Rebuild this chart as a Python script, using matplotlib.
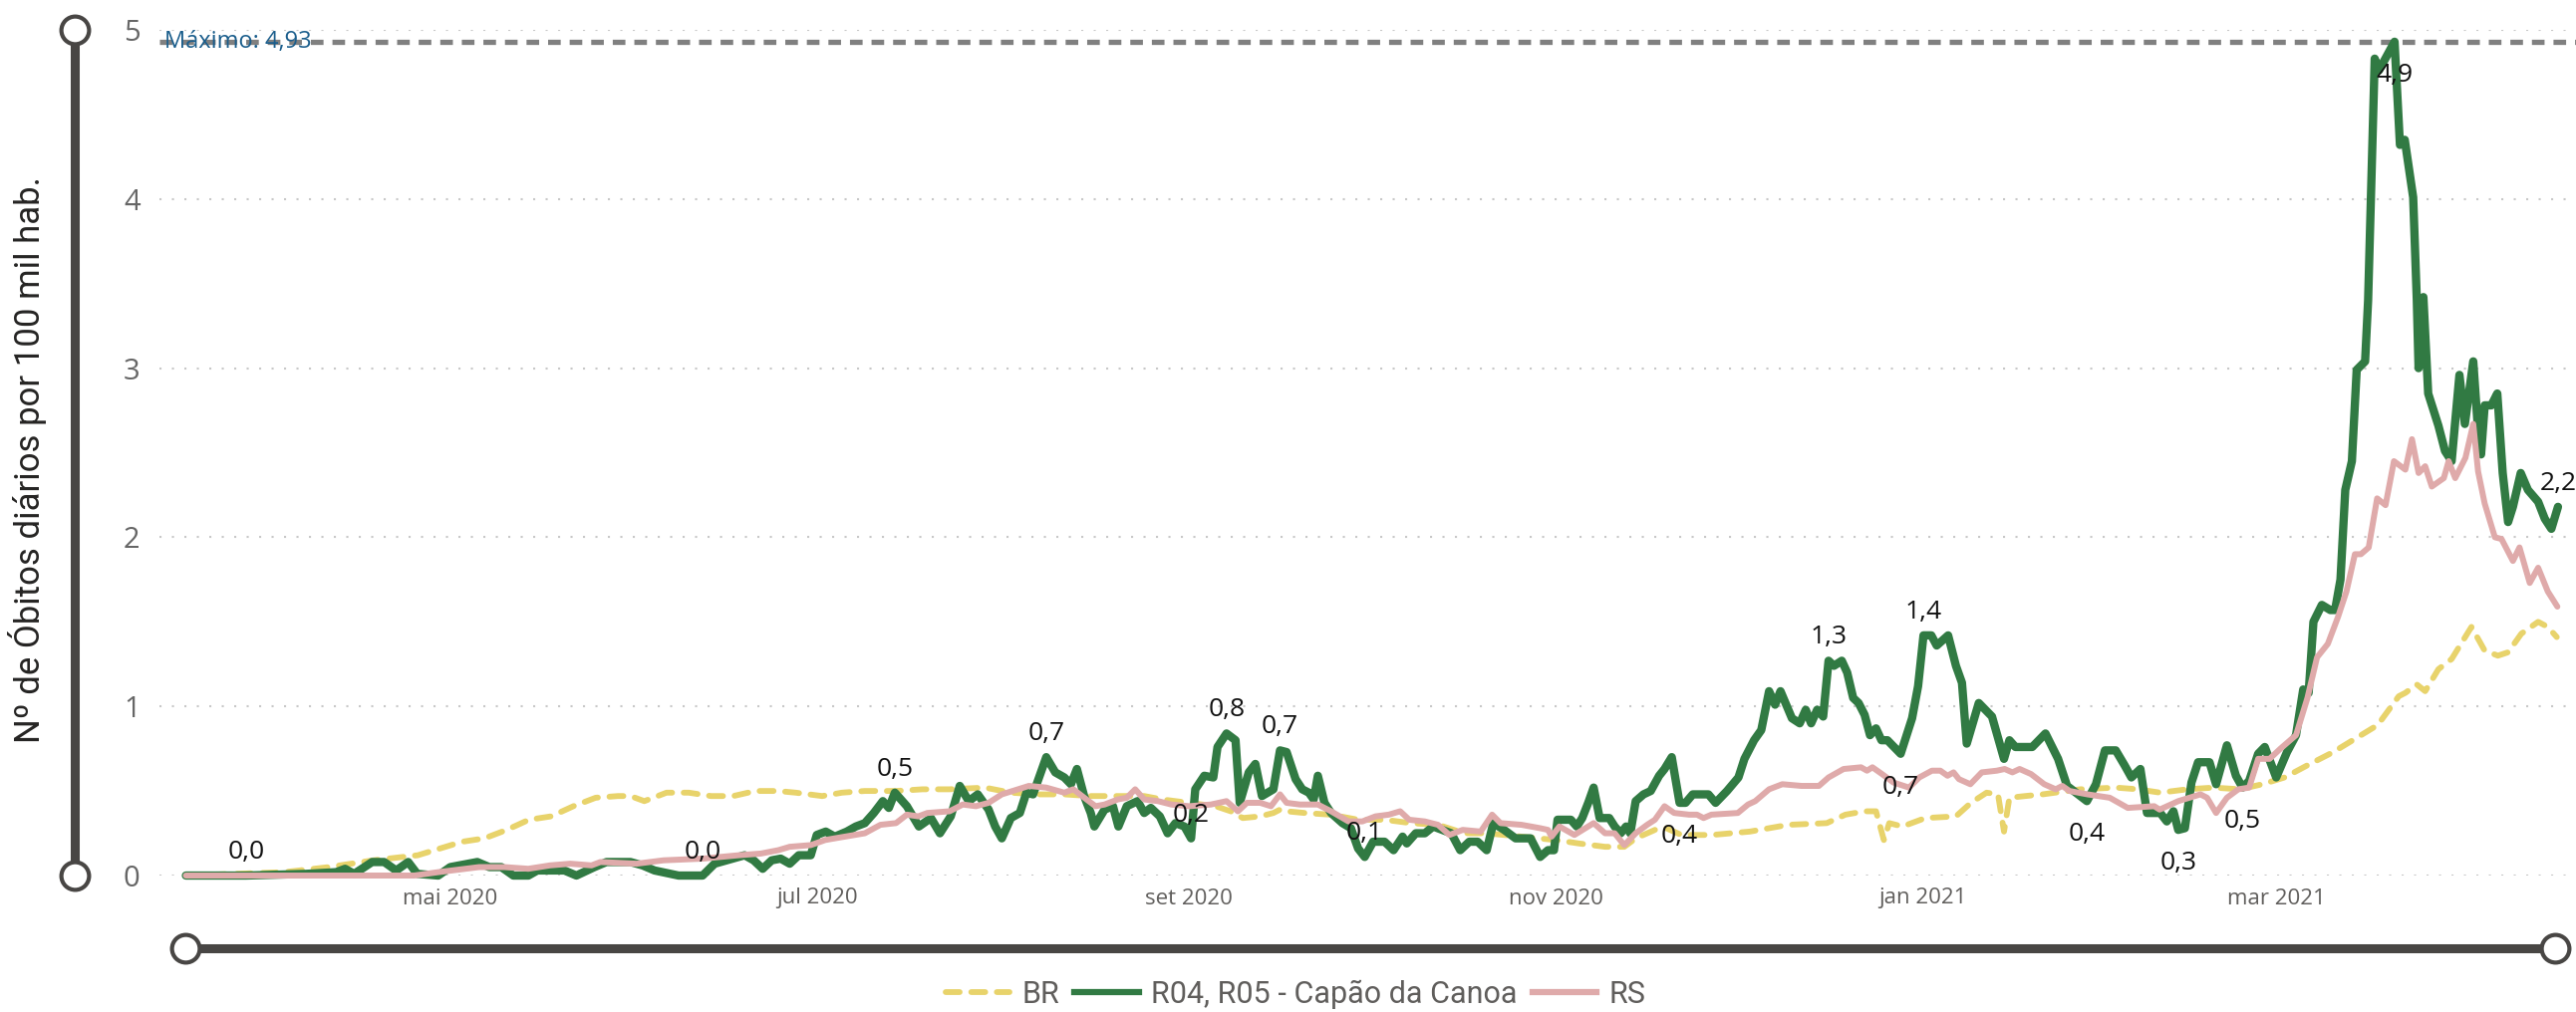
import numpy as np
import pandas as pd
import matplotlib
matplotlib.use('Agg')
import matplotlib.pyplot as plt
from matplotlib.lines import Line2D
import matplotlib.transforms as mtransforms

# Series start date; every series is stored as day offsets from it
start = pd.Timestamp('2020-03-18')

# R04, R05 - Capao da Canoa (green)
green_day = [0, 10, 20, 25, 26.5, 28, 31, 33, 35, 37, 38.5, 42, 44, 48.5, 50.5, 52.5, 54.5, 57, 58.5,
             63, 65, 68, 70, 74, 76, 78, 82, 86, 88, 90, 93, 94.5, 96, 97.5, 99, 100.5, 102, 104,
             105, 106.5, 108, 110, 111.5, 113, 114.5, 116, 117, 118, 120, 122, 124, 125.5, 127.3,
             128.8, 130.3, 131.8, 133.6, 134.7, 135.8, 137.3, 138.8, 139.9, 141, 143.2, 144.7,
             146.2, 147.3, 148.3, 149.5, 150.6, 151.2, 152.9, 154.3, 155.2, 156.6, 158.4, 159.5,
             160.6, 162.1, 163.4, 164.7, 166.2, 167.3, 168, 169.5, 171, 171.7, 173.2, 174.7, 175.4,
             176.9, 178, 179.1, 181, 182.1, 183.2, 184.7, 185.8, 186.9, 187.7, 188.4, 189.5, 190.6,
             192.5, 193.9, 195.1, 196.2, 197.6, 199.5, 201, 202.5, 203.2, 204.7, 206.2, 207.6,
             209.1, 210.6, 212.1, 213.6, 215, 216.5, 217.6, 219.4, 221.3, 223.8, 225.4, 226.7,
             227.7, 228.3, 230.5, 231.5, 232.4, 233.4, 234.3, 235.3, 236.9, 237.8, 238.8, 239.7,
             240.4, 241.3, 242.6, 243.8, 245.2, 246.1, 247.3, 248.6, 249.6, 250.8, 253.4, 254.6,
             256.5, 258.4, 259.4, 261, 262.2, 263.5, 264.5, 265.4, 267.3, 268.6, 269.6, 270.5,
             271.5, 272.5, 273.4, 274.3, 275.6, 276.5, 277.5, 278.4, 279.4, 280.3, 281.3, 282.2,
             283.2, 285.4, 287.3, 288.3, 289.2, 290.5, 291.4, 293.3, 294.6, 295.6, 296.4, 298.4,
             300.6, 302.6, 303.5, 304.5, 307.3, 309.5, 311.6, 313.1, 316.4, 317.9, 319.4, 321.2,
             322.7, 323.8, 325.3, 326.4, 328.6, 329.7, 330.8, 331.6, 332.7, 333.8, 334.9, 336.8,
             337.9, 339.7, 341.2, 342.3, 343.4, 344.9, 346, 347.9, 349.7, 351.2, 352.4, 353.3,
             354.1, 355.5, 356.9, 357.7, 358.6, 359.4, 360.5, 361.3, 362.7, 363.2, 364.3, 365,
             367.6, 368.5, 369.3, 370.7, 371.3, 371.6, 372.4, 373.2, 374.9, 376, 377.1, 378.4,
             379.3, 380.7, 381.5, 382, 382.6, 383.7, 384.7, 385.6, 386.5, 387.3, 388.6, 389.8,
             391.5, 392.6, 393.7, 394.8]
green_val = [0.0, 0.0, 0.01, 0.02, 0.04, 0.01, 0.08, 0.08, 0.03, 0.08, 0.01, 0.0, 0.05, 0.08, 0.05, 0.05, 0.0, 0.0, 0.03,
             0.03, 0.0, 0.05, 0.08, 0.08, 0.06, 0.03, 0.0, 0.0, 0.07, 0.09, 0.12, 0.09, 0.04, 0.09, 0.10, 0.07, 0.12, 0.12,
             0.24, 0.26, 0.23, 0.26, 0.29, 0.31, 0.37, 0.44, 0.40, 0.49, 0.41, 0.29, 0.34, 0.25, 0.35,
             0.53, 0.44, 0.48, 0.39, 0.29, 0.22, 0.34, 0.37, 0.49, 0.48, 0.70, 0.61,
             0.58, 0.54, 0.63, 0.47, 0.37, 0.29, 0.39, 0.41, 0.29, 0.41, 0.44, 0.37,
             0.40, 0.35, 0.25, 0.31, 0.29, 0.22, 0.51, 0.59, 0.58, 0.76, 0.84, 0.80, 0.43,
             0.61, 0.66, 0.47, 0.51, 0.74, 0.73, 0.57, 0.51, 0.49, 0.45, 0.59, 0.43, 0.37,
             0.31, 0.28, 0.16, 0.11, 0.20, 0.20, 0.15, 0.23, 0.19, 0.25, 0.25, 0.29,
             0.27, 0.25, 0.15, 0.20, 0.20, 0.15, 0.31, 0.27, 0.22, 0.22, 0.11, 0.15,
             0.15, 0.33, 0.33, 0.29, 0.34, 0.43, 0.52, 0.34, 0.34, 0.29, 0.25, 0.29,
             0.25, 0.44, 0.48, 0.50, 0.59, 0.63, 0.70, 0.43, 0.43, 0.48, 0.48, 0.43,
             0.50, 0.58, 0.69, 0.80, 0.86, 1.09, 1.01, 1.09, 0.93, 0.90, 0.98, 0.90,
             0.98, 0.94, 1.27, 1.24, 1.27, 1.20, 1.05, 1.02, 0.95, 0.83, 0.87, 0.80,
             0.80, 0.72, 0.93, 1.12, 1.42, 1.42, 1.36, 1.42, 1.24, 1.14, 0.78, 1.02,
             0.94, 0.69, 0.80, 0.76, 0.76, 0.84, 0.69, 0.53, 0.44, 0.54, 0.74, 0.74,
             0.65, 0.58, 0.63, 0.37, 0.37, 0.32, 0.38, 0.27, 0.28, 0.55, 0.67, 0.67,
             0.54, 0.77, 0.59, 0.52, 0.56, 0.72, 0.76, 0.58, 0.73, 0.83, 1.10, 1.08,
             1.50, 1.60, 1.57, 1.57, 1.75, 2.28, 2.45, 2.99, 3.04, 3.40, 4.83, 4.76,
             4.93, 4.32, 4.35, 4.01, 3.41, 3.00, 3.42, 2.85, 2.66, 2.51, 2.45, 2.96,
             2.67, 3.04, 2.63, 2.49, 2.78, 2.78, 2.85, 2.38, 2.09, 2.18, 2.38, 2.28,
             2.21, 2.11, 2.05, 2.18]

# RS (pink)
rs_day = [0, 38, 42, 48.8, 53, 57, 60.6, 64, 67.5, 69, 75, 79.5, 86, 92, 95.7, 98.6, 100.5, 104,
          106.4, 108, 113, 115.6, 118.2, 120, 121.9, 123.4, 127.1, 129.3, 131.5, 133.6, 135.8,
          140.3, 143.2, 146.2, 147.7, 149.9, 151.4, 152.9, 155.1, 156.6, 158, 159.5, 161.8, 164,
          167, 170.6, 173.2, 175.1, 176.6, 178.8, 180.6, 182.1, 183.2, 185.4, 188.4, 190.6,
          193.5, 195.8, 198, 200.2, 202.1, 203.6, 206.2, 208.4, 210.3, 212.5, 215.5, 217.4,
          218.8, 222.3, 225.4, 226.7, 227.3, 228.6, 231.1, 234.3, 236.2, 237.8, 239.4, 241.3,
          243.2, 244.5, 246.1, 247.7, 250.2, 251.5, 252.6, 253.9, 258.3, 260, 261.2, 263.5,
          265.7, 268.9, 271.8, 273.4, 275.9, 278.8, 279.8, 280.7, 282.3, 284.2, 286.8, 288.5,
          290.6, 292, 293.2, 294.2, 295.1, 297, 298.9, 301.4, 302.7, 304, 305.2, 307.1, 309.3,
          311.2, 312.3, 313.5, 316.5, 320.2, 323.2, 327.6, 328.5, 331.6, 335.3, 336.4, 337.9,
          339.7, 341.6, 343.4, 344.9, 346.8, 348.6, 351.2, 353.1, 354.7, 356.5, 358.2, 359.6,
          361, 362, 363.3, 364.7, 366.1, 367.5, 369.4, 370.5, 371.6, 372.7, 373.8, 375.8,
          376.6, 377.7, 379.4, 380.7, 381.5, 382.6, 384.3, 385.4, 387.3, 388.4, 390.1, 391.5,
          393.1, 394.7]
rs_val = [0.0, 0.0, 0.02, 0.05, 0.05, 0.04, 0.06, 0.07, 0.06, 0.08, 0.07, 0.09, 0.10, 0.12, 0.13, 0.15, 0.17, 0.18,
          0.21, 0.22, 0.25, 0.30, 0.31, 0.36, 0.35, 0.37, 0.38, 0.42, 0.41, 0.43, 0.48,
          0.53, 0.52, 0.49, 0.51, 0.45, 0.41, 0.42, 0.45, 0.46, 0.51, 0.45, 0.44, 0.42,
          0.41, 0.42, 0.44, 0.38, 0.43, 0.43, 0.41, 0.48, 0.43, 0.42, 0.42, 0.38,
          0.32, 0.32, 0.35, 0.36, 0.38, 0.33, 0.32, 0.30, 0.24, 0.27, 0.26, 0.36,
          0.31, 0.30, 0.28, 0.27, 0.23, 0.29, 0.24, 0.31, 0.25, 0.25, 0.18, 0.25,
          0.30, 0.33, 0.41, 0.37, 0.36, 0.36, 0.34, 0.36, 0.37, 0.42, 0.44, 0.51,
          0.54, 0.53, 0.53, 0.58, 0.63, 0.64, 0.62, 0.64, 0.60, 0.55, 0.52, 0.58,
          0.62, 0.62, 0.59, 0.61, 0.57, 0.54, 0.61, 0.62, 0.63, 0.61, 0.63, 0.60, 0.54,
          0.51, 0.53, 0.50, 0.48, 0.46, 0.40, 0.41, 0.39, 0.44, 0.48, 0.46, 0.37,
          0.46, 0.51, 0.52, 0.69, 0.69, 0.75, 0.83, 1.05, 1.29, 1.37, 1.53, 1.68,
          1.90, 1.90, 1.94, 2.23, 2.19, 2.45, 2.40, 2.58, 2.38, 2.42, 2.30, 2.35,
          2.45, 2.35, 2.47, 2.67, 2.39, 2.20, 2.00, 1.99, 1.86, 1.94, 1.73, 1.82,
          1.68, 1.59]

# BR (yellow, dashed)
br_day = [0, 16.4, 23.8, 31.2, 38.6, 46, 49.7, 53.4, 57.1, 60.8, 64.5, 68.2, 71.9, 74, 76.3, 80,
          83.7, 87.4, 91.1, 94.8, 98.5, 101.5, 105.9, 109.2, 113, 118.2, 122.6, 127.1, 133,
          137.3, 141.8, 146.2, 150.6, 155.1, 159.5, 162.5, 166.9, 171.4, 173.9, 175.9, 178.8,
          181, 182.1, 183.2, 186.2, 190.6, 195.1, 199.5, 203.9, 208.4, 212.8, 216.5, 222.3,
          228, 231.8, 236.2, 239.4, 241.3, 244.5, 246.4, 248.9, 254, 260.3, 266.7, 273.1,
          276.2, 279.4, 281.3, 282.6, 283.5, 285.7, 289.5, 294.6, 297.1, 299.7, 301.6, 302.6,
          303.5, 306.1, 309, 315.3, 321.2, 324.9, 328.6, 333.1, 337.5, 341.9, 345.6, 349.3,
          353, 357.4, 361.1, 364.8, 368.3, 369.4, 371.3, 372.7, 374.9, 377.1, 380.4, 382.6,
          384.8, 386.5, 388.7, 391.5, 393.1, 394.6]
br_val = [0.0, 0.02, 0.05, 0.09, 0.12, 0.20, 0.22, 0.27, 0.33, 0.35, 0.41, 0.46, 0.47, 0.47, 0.44, 0.49,
          0.49, 0.47, 0.47, 0.50, 0.50, 0.49, 0.47, 0.49, 0.50, 0.50, 0.51, 0.51, 0.52,
          0.49, 0.48, 0.48, 0.47, 0.47, 0.47, 0.45, 0.43, 0.41, 0.38, 0.34, 0.35,
          0.37, 0.39, 0.38, 0.37, 0.36, 0.33, 0.33, 0.31, 0.30, 0.25, 0.25, 0.23,
          0.21, 0.19, 0.17, 0.17, 0.22, 0.27, 0.28, 0.24, 0.24, 0.26, 0.30, 0.31,
          0.36, 0.38, 0.38, 0.21, 0.31, 0.29, 0.34, 0.35, 0.43, 0.49, 0.48, 0.26,
          0.46, 0.47, 0.48, 0.51, 0.52, 0.51, 0.49, 0.51, 0.52, 0.51, 0.54, 0.58,
          0.65, 0.73, 0.81, 0.89, 1.06, 1.08, 1.13, 1.09, 1.22, 1.28, 1.47, 1.33,
          1.30, 1.32, 1.43, 1.50, 1.47, 1.41]

# data labels shown on the green series (day offset, placed above?)
label_days = [10, 86, 118, 143.2, 167.3, 173.2, 182.1, 196.2, 248.6, 273.4, 285.4, 289.2,
              316.4, 331.6, 342.3, 367.6, 394.8]
label_above = [True, True, True, True, True, True, True, True, False, True, False, True,
               False, False, False, False, True]

max_value = 4.93
month_ticks = ['2020-05-01', '2020-07-01', '2020-09-01', '2020-11-01', '2021-01-01', '2021-03-01']
month_labels = ['mai 2020', 'jul 2020', 'set 2020', 'nov 2020', 'jan 2021', 'mar 2021']
y_ticks = [0, 1, 2, 3, 4, 5]


def to_dates(days):
    return start + pd.to_timedelta(np.asarray(days, dtype=float), unit='D')


def fmt(v, nd=1):
    return f'{v:.{nd}f}'.replace('.', ',')


W, H = 2585, 1016
fig = plt.figure(figsize=(W / 100, H / 100), dpi=100)
ax = fig.add_axes([160 / W, 137 / H, 1 - 160 / W, 849 / H])

ui_font = ['Open Sans', 'DejaVu Sans']
din_font = ['Roboto', 'DejaVu Sans']

green = '#317A43'
pink = '#DFAAAA'
yellow = '#E8D36B'

# lines
ax.plot(to_dates(br_day), br_val, color=yellow, lw=4.2, dashes=(2.4, 2.0),
        dash_capstyle='round', zorder=3, clip_on=False)
ax.plot(to_dates(green_day), green_val, color=green, lw=6.0, solid_joinstyle='round',
        solid_capstyle='round', zorder=4, clip_on=False)
ax.plot(to_dates(rs_day), rs_val, color=pink, lw=4.3, solid_joinstyle='round',
        solid_capstyle='round', zorder=5, clip_on=False)

# max reference line
ax.axhline(max_value, color='#808080', lw=3.8, dashes=(2.4, 1.7), zorder=2)
trans = mtransforms.blended_transform_factory(ax.transAxes, ax.transData)
ax.text(0.002, max_value, 'Máximo: ' + fmt(max_value, 2), transform=trans, va='center', ha='left',
        fontsize=17, color='#1B5E8C', family=ui_font, zorder=6)

# data labels
for d, up in zip(label_days, label_above):
    v = green_val[green_day.index(d)]
    ax.annotate(fmt(v), (to_dates([d])[0], v), xytext=(0, 17 if up else -24),
                textcoords='offset points', ha='center', va='center', fontsize=19,
                color='#111111', family=ui_font, zorder=7, annotation_clip=False)

ax.set_ylim(0, 5)
ax.set_xlim(to_dates([-4.4, 397.8]))
ax.set_yticks(y_ticks)
ax.set_yticklabels([str(t) for t in y_ticks], fontsize=21, color='#666666', family=ui_font)
ax.set_xticks(pd.to_datetime(month_ticks))
ax.set_xticklabels(month_labels, fontsize=16, color='#605E5C', family=ui_font)
ax.tick_params(axis='both', length=0)
ax.tick_params(axis='y', pad=14)
ax.tick_params(axis='x', pad=9)
for s in ax.spines.values():
    s.set_visible(False)
ax.yaxis.grid(True, color='#C8C8C8', lw=1.5, linestyle=(0, (1, 5)))
ax.set_axisbelow(True)

fig.text(28 / W, 1 - 462 / H, 'Nº de Óbitos diários por 100 mil hab.', rotation=90,
         ha='center', va='center', fontsize=25, color='#252423', family=din_font)

# slider decorations (Power BI zoom sliders)
bar = '#484644'
for xs, ys in [([75, 75], [30, 879]), ([186, 2564], [952, 952])]:
    fx = [x / W for x in xs]
    fy = [1 - y / H for y in ys]
    fig.add_artist(Line2D(fx, fy, transform=fig.transFigure, color=bar, lw=6.5, zorder=1))
    fig.add_artist(Line2D(fx, fy, transform=fig.transFigure, ls='none', marker='o', ms=20,
                          mfc='white', mec=bar, mew=3, zorder=2))

# legend
handles = [
    Line2D([], [], color=yellow, lw=4.2, dashes=(2.4, 2.0), dash_capstyle='round'),
    Line2D([], [], color=green, lw=4.5),
    Line2D([], [], color=pink, lw=4.5),
]
leg = fig.legend(handles, ['BR', 'R04, R05 - Capão da Canoa', 'RS'], loc='center',
                 bbox_to_anchor=(1300 / W, 1 - 998 / H), ncol=3, frameon=False,
                 handlelength=2.1, handletextpad=0.4, columnspacing=0.5,
                 prop={'family': din_font, 'size': 22})
for t in leg.get_texts():
    t.set_color('#605E5C')

fig.savefig('out.png', dpi=100)
